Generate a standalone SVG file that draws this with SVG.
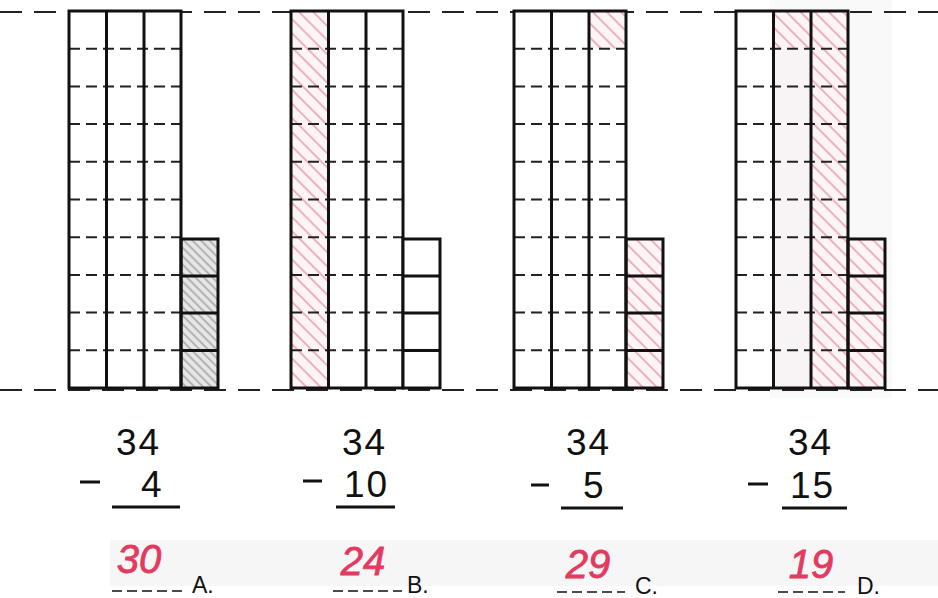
<svg xmlns="http://www.w3.org/2000/svg" width="938" height="598" viewBox="0 0 938 598">
<defs>
<pattern id="redHatch" patternUnits="userSpaceOnUse" width="10" height="10" patternTransform="rotate(45)">
<rect width="10" height="10" fill="#fdf4f6"/>
<line x1="0" y1="5" x2="10" y2="5" stroke="#e07a96" stroke-width="1.1"/>
</pattern>
<pattern id="grayHatch" patternUnits="userSpaceOnUse" width="6" height="6" patternTransform="rotate(45)">
<rect width="6" height="6" fill="#e6e6e6"/>
<line x1="0" y1="3" x2="6" y2="3" stroke="#8a8a8a" stroke-width="1.1"/>
</pattern>
</defs>
<style>
.frame{fill:none;stroke:#111;stroke-width:3}
.col{stroke:#111;stroke-width:3}
.row{stroke:#222;stroke-width:2;stroke-dasharray:11 6}
.guide{stroke:#222;stroke-width:2;stroke-dasharray:22 12}
.num{font-family:"Liberation Sans",Arial,sans-serif;font-size:37px;fill:#111;letter-spacing:2px}
.ans{font-family:"Liberation Sans",Arial,sans-serif;font-size:40px;font-style:italic;fill:#e23a60;stroke:#e23a60;stroke-width:0.8;text-anchor:middle}
.lbl{font-family:"Liberation Sans",Arial,sans-serif;font-size:23px;fill:#111}
.uline{stroke:#111;stroke-width:3}
.minus{stroke:#111;stroke-width:3}
.adash{stroke:#111;stroke-width:1.6;stroke-dasharray:10 5}
</style>
<rect width="938" height="598" fill="#fff"/>
<rect x="110" y="540" width="828" height="46" fill="#f6f6f6"/>
<rect x="770" y="0" width="122" height="398" fill="#f9f9f9"/>
<g id="guides">
<line class="guide" x1="0" y1="12" x2="938" y2="12"/>
<line class="guide" x1="0" y1="390" x2="938" y2="390"/>
</g>
<g id="blockA" transform="translate(69,11)">
<rect x="0" y="0" width="112" height="377" fill="#fff"/>
<rect x="112" y="228" width="37" height="149" fill="url(#grayHatch)"/>
<g>
<line class="row" x1="0" y1="37.7" x2="112" y2="37.7"/><line class="row" x1="0" y1="75.4" x2="112" y2="75.4"/><line class="row" x1="0" y1="113.1" x2="112" y2="113.1"/><line class="row" x1="0" y1="150.8" x2="112" y2="150.8"/><line class="row" x1="0" y1="188.5" x2="112" y2="188.5"/><line class="row" x1="0" y1="226.2" x2="112" y2="226.2"/><line class="row" x1="0" y1="263.9" x2="112" y2="263.9"/><line class="row" x1="0" y1="301.6" x2="112" y2="301.6"/><line class="row" x1="0" y1="339.3" x2="112" y2="339.3"/>
</g>
<line class="col" x1="37.5" y1="0" x2="37.5" y2="377"/><line class="col" x1="75" y1="0" x2="75" y2="377"/>
<rect class="frame" x="0" y="0" width="112" height="377"/>
<rect class="frame" x="112" y="228" width="37" height="149"/>
<line class="col" x1="112" y1="265" x2="149" y2="265"/><line class="col" x1="112" y1="302" x2="149" y2="302"/><line class="col" x1="112" y1="339.5" x2="149" y2="339.5"/>
</g>
<g id="blockB" transform="translate(291,11)">
<rect x="0" y="0" width="112" height="377" fill="#fff"/>
<rect x="0" y="0" width="37.5" height="377" fill="url(#redHatch)"/>
<g>
<line class="row" x1="0" y1="37.7" x2="112" y2="37.7"/><line class="row" x1="0" y1="75.4" x2="112" y2="75.4"/><line class="row" x1="0" y1="113.1" x2="112" y2="113.1"/><line class="row" x1="0" y1="150.8" x2="112" y2="150.8"/><line class="row" x1="0" y1="188.5" x2="112" y2="188.5"/><line class="row" x1="0" y1="226.2" x2="112" y2="226.2"/><line class="row" x1="0" y1="263.9" x2="112" y2="263.9"/><line class="row" x1="0" y1="301.6" x2="112" y2="301.6"/><line class="row" x1="0" y1="339.3" x2="112" y2="339.3"/>
</g>
<line class="col" x1="37.5" y1="0" x2="37.5" y2="377"/><line class="col" x1="75" y1="0" x2="75" y2="377"/>
<rect class="frame" x="0" y="0" width="112" height="377"/>
<rect x="112" y="228" width="37" height="149" fill="#fff"/>
<rect class="frame" x="112" y="228" width="37" height="149"/>
<line class="col" x1="112" y1="265" x2="149" y2="265"/><line class="col" x1="112" y1="302" x2="149" y2="302"/><line class="col" x1="112" y1="339.5" x2="149" y2="339.5"/>
</g>
<g id="blockC" transform="translate(514,11)">
<rect x="0" y="0" width="112" height="377" fill="#fff"/>
<rect x="75" y="0" width="37" height="37.7" fill="url(#redHatch)"/>
<rect x="112" y="228" width="37" height="149" fill="url(#redHatch)"/>
<g>
<line class="row" x1="0" y1="37.7" x2="112" y2="37.7"/><line class="row" x1="0" y1="75.4" x2="112" y2="75.4"/><line class="row" x1="0" y1="113.1" x2="112" y2="113.1"/><line class="row" x1="0" y1="150.8" x2="112" y2="150.8"/><line class="row" x1="0" y1="188.5" x2="112" y2="188.5"/><line class="row" x1="0" y1="226.2" x2="112" y2="226.2"/><line class="row" x1="0" y1="263.9" x2="112" y2="263.9"/><line class="row" x1="0" y1="301.6" x2="112" y2="301.6"/><line class="row" x1="0" y1="339.3" x2="112" y2="339.3"/>
</g>
<line class="col" x1="37.5" y1="0" x2="37.5" y2="377"/><line class="col" x1="75" y1="0" x2="75" y2="377"/>
<rect class="frame" x="0" y="0" width="112" height="377"/>
<rect class="frame" x="112" y="228" width="37" height="149"/>
<line class="col" x1="112" y1="265" x2="149" y2="265"/><line class="col" x1="112" y1="302" x2="149" y2="302"/><line class="col" x1="112" y1="339.5" x2="149" y2="339.5"/>
</g>
<g id="blockD" transform="translate(736,11)">
<rect x="0" y="0" width="112" height="377" fill="#fff"/>
<rect x="37.5" y="0" width="37.5" height="377" fill="#f8f4f5"/>
<rect x="37.5" y="0" width="37.5" height="37.7" fill="url(#redHatch)"/>
<rect x="75" y="0" width="37.5" height="377" fill="url(#redHatch)"/>
<rect x="112" y="228" width="37" height="149" fill="url(#redHatch)"/>
<g>
<line class="row" x1="0" y1="37.7" x2="112" y2="37.7"/><line class="row" x1="0" y1="75.4" x2="112" y2="75.4"/><line class="row" x1="0" y1="113.1" x2="112" y2="113.1"/><line class="row" x1="0" y1="150.8" x2="112" y2="150.8"/><line class="row" x1="0" y1="188.5" x2="112" y2="188.5"/><line class="row" x1="0" y1="226.2" x2="112" y2="226.2"/><line class="row" x1="0" y1="263.9" x2="112" y2="263.9"/><line class="row" x1="0" y1="301.6" x2="112" y2="301.6"/><line class="row" x1="0" y1="339.3" x2="112" y2="339.3"/>
</g>
<line class="col" x1="37.5" y1="0" x2="37.5" y2="377"/><line class="col" x1="75" y1="0" x2="75" y2="377"/>
<rect class="frame" x="0" y="0" width="112" height="377"/>
<rect class="frame" x="112" y="228" width="37" height="149"/>
<line class="col" x1="112" y1="265" x2="149" y2="265"/><line class="col" x1="112" y1="302" x2="149" y2="302"/><line class="col" x1="112" y1="339.5" x2="149" y2="339.5"/>
</g>
<g id="problemA">
<text class="num"><tspan x="116" y="455">34</tspan><tspan x="80" y="497" fill="none">-</tspan><tspan x="141" y="497">4</tspan></text>
<line class="minus" x1="80" y1="482" x2="100" y2="482"/>
<line class="uline" x1="112" y1="507" x2="180" y2="507"/>
<text class="ans" x="139" y="573">30</text>
<line class="adash" x1="112" y1="591" x2="182" y2="591"/>
<text class="lbl" x="192" y="593">A.</text>
</g>
<g id="problemB">
<text class="num"><tspan x="342" y="455">34</tspan><tspan x="303" y="497" fill="none">-</tspan><tspan x="344" y="497">10</tspan></text>
<line class="minus" x1="303" y1="481" x2="322" y2="481"/>
<line class="uline" x1="336" y1="507" x2="395" y2="507"/>
<text class="ans" x="363" y="575">24</text>
<line class="adash" x1="333" y1="591" x2="402" y2="591"/>
<text class="lbl" x="407" y="593">B.</text>
</g>
<g id="problemC">
<text class="num"><tspan x="566" y="455">34</tspan><tspan x="531" y="498" fill="none">-</tspan><tspan x="583" y="498">5</tspan></text>
<line class="minus" x1="531" y1="485" x2="549" y2="485"/>
<line class="uline" x1="561" y1="508" x2="623" y2="508"/>
<text class="ans" x="588" y="578">29</text>
<line class="adash" x1="557" y1="592" x2="625" y2="592"/>
<text class="lbl" x="635" y="594">C.</text>
</g>
<g id="problemD">
<text class="num"><tspan x="788" y="455">34</tspan><tspan x="748" y="498" fill="none">-</tspan><tspan x="790" y="498">15</tspan></text>
<line class="minus" x1="748" y1="484" x2="768" y2="484"/>
<line class="uline" x1="782" y1="508" x2="847" y2="508"/>
<text class="ans" x="811" y="578">19</text>
<line class="adash" x1="778" y1="592" x2="845" y2="592"/>
<text class="lbl" x="857" y="594">D.</text>
</g>
<g id="connectors"/>
</svg>
